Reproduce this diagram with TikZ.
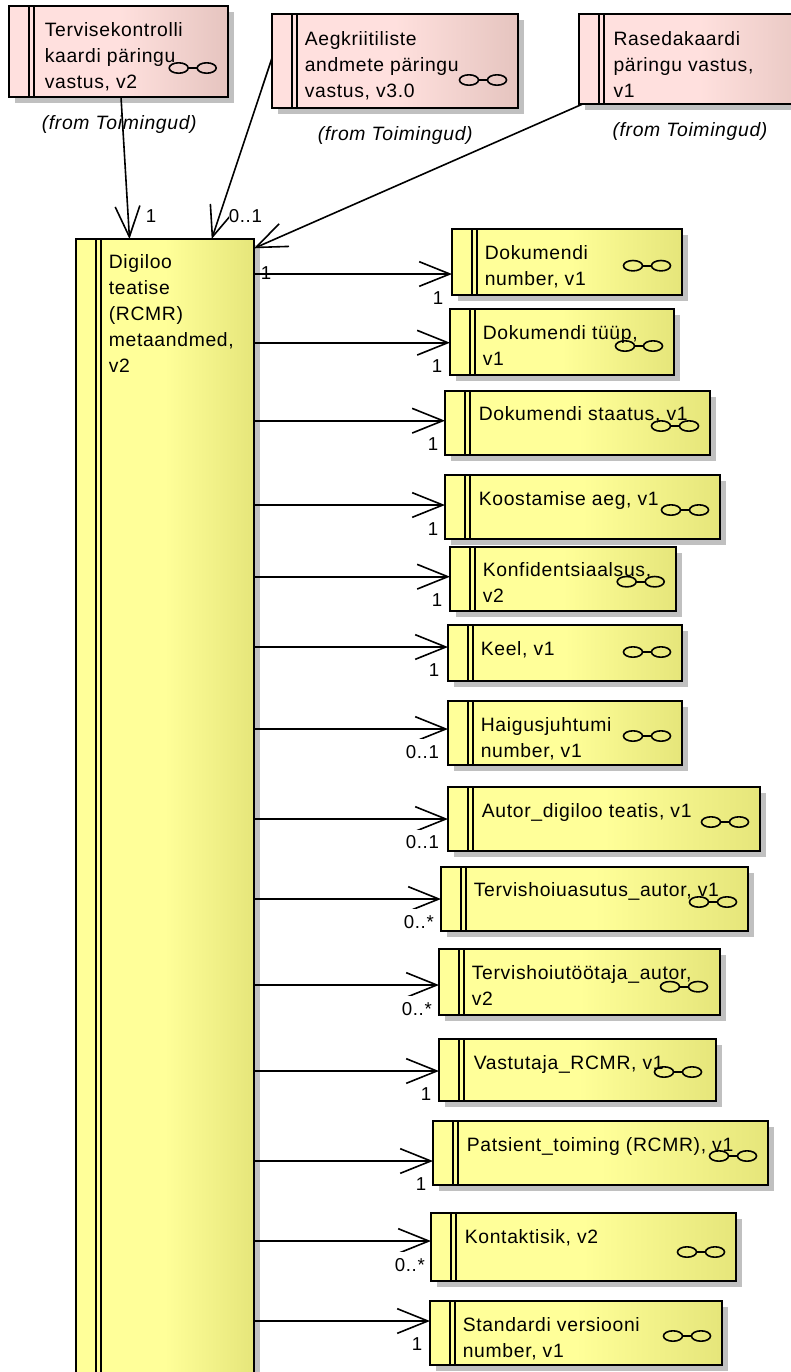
\documentclass[tikz,border=0pt]{standalone}
\usepackage{fontspec}
\setmainfont[LetterSpace=3.5]{Liberation Sans}
\usetikzlibrary{arrows.meta,shadows}

\pgfdeclarehorizontalshading{clsyellow}{100bp}{rgb(0bp)=(1,1,.6); rgb(50bp)=(1,1,.6); rgb(75bp)=(.9,.9,.48); rgb(100bp)=(.9,.9,.48)}
\pgfdeclarehorizontalshading{clspink}{100bp}{rgb(0bp)=(1,.88,.87); rgb(50bp)=(1,.88,.87); rgb(75bp)=(.9,.77,.75); rgb(100bp)=(.9,.77,.75)}
\definecolor{shadowgrey}{HTML}{C0C0C0}
\newcommand{\boxlines}[1]{\begin{tabular}[t]{@{}l@{}}#1\end{tabular}}

\tikzset{
  classbox/.style 2 args={anchor=north west,inner sep=0pt,outer sep=0pt,draw,line width=1.2pt,
    minimum width=#1*.75pt,minimum height=#2*.75pt,shade,
    general shadow={shadow xshift=4.5pt,shadow yshift=-4.5pt,fill=shadowgrey},
    path picture={
      \draw[line width=1.1pt] ([xshift=15pt]path picture bounding box.north west) -- ([xshift=15pt]path picture bounding box.south west);
      \draw[line width=1.1pt] ([xshift=18.6pt]path picture bounding box.north west) -- ([xshift=18.6pt]path picture bounding box.south west);
    }},
  ybox/.style 2 args={classbox={#1}{#2},shading=clsyellow},
  pbox/.style 2 args={classbox={#1}{#2},shading=clspink},
  boxtext/.style={anchor=base west,inner sep=0pt,font=\fontsize{14.5pt}{19.5pt}\selectfont},
  mult/.style={anchor=base west,inner sep=0pt,font=\fontsize{14pt}{19.5pt}\selectfont},
  multw/.style={mult,fill=white,text height=14pt,text depth=3pt},
  fromtxt/.style={mult,font=\fontsize{14.5pt}{19.5pt}\selectfont\itshape},
  glasses/.pic={
    \draw[line width=1.2pt] (-14,0) ellipse (9.5 and 5.2);
    \draw[line width=1.2pt] (14,0) ellipse (9.5 and 5.2);
    \draw[line width=1.2pt] (-4.5,0) -- (4.5,0);
  }
}

\begin{document}
\begin{tikzpicture}[x=.75pt,y=-.75pt,line width=1.2pt,>={Straight Barb[length=23pt,width=18.5pt]}]

  \clip[use as bounding box] (0,0) rectangle (791,1372);

  % upper classes
  \node[pbox={219}{91}]  (tkKaart) at (9,6)   { };
  \node[pbox={246}{94}]  (aegKr)   at (272,14) { };
  \node[pbox={240}{90}]  (rasKaart) at (579,14) { };

  % main class
  \node[ybox={178}{1180}] (Main) at (76,239) { };

  % right column
  \node[ybox={230}{66}]  (dokNr)     at (452,229)  { };
  \node[ybox={224}{66}]  (dokTyyp)   at (450,309)  { };
  \node[ybox={265}{64}]  (dokStaatus) at (445,391) { };
  \node[ybox={275}{64}]  (koostAeg)  at (445,475)  { };
  \node[ybox={226}{64}]  (konfid)    at (450,547)  { };
  \node[ybox={234}{56}]  (keel)      at (448,625)  { };
  \node[ybox={234}{64}]  (haigus)    at (448,701)  { };
  \node[ybox={312}{64}]  (autor)     at (448,787)  { };
  \node[ybox={307}{64}]  (tvAsutus)  at (441,867)  { };
  \node[ybox={281}{66}]  (tvTootaja) at (439,949)  { };
  \node[ybox={277}{62}]  (vastutaja) at (439,1039) { };
  \node[ybox={335}{64}]  (patsient)  at (433,1121) { };
  \node[ybox={305}{68}]  (kontakt)   at (431,1213) { };
  \node[ybox={292}{64}]  (standard)  at (430,1301) { };

  % texts
  \node[boxtext] (tTkKaart) at (44,36.7)  {\boxlines{Tervisekontrolli\\kaardi päringu\\vastus, v2}};
  \node[boxtext] (tAegKr)   at (304,45)   {\boxlines{Aegkriitiliste\\andmete päringu\\vastus, v3.0}};
  \node[boxtext] (tRasKaart) at (612.7,45) {\boxlines{Rasedakaardi\\päringu vastus,\\v1}};
  \node[boxtext] (tMain)    at (108,268.3) {\boxlines{Digiloo\\teatise\\(RCMR)\\metaandmed,\\v2}};
  \node[boxtext] (tDokNr)   at (484,259.3) {\boxlines{Dokumendi\\number, v1}};
  \node[boxtext] (tDokTyyp) at (482,339)   {\boxlines{Dokumendi tüüp,\\v1}};
  \node[boxtext] (tDokStaatus) at (478,420.7) {Dokumendi staatus, v1};
  \node[boxtext] (tKoostAeg) at (478,505)  {Koostamise aeg, v1};
  \node[boxtext] (tKonfid)  at (482,576.7) {\boxlines{Konfidentsiaalsus,\\v2}};
  \node[boxtext] (tKeel)    at (480,655)   {Keel, v1};
  \node[boxtext] (tHaigus)  at (480,731.7) {\boxlines{Haigusjuhtumi\\number, v1}};
  \node[boxtext] (tAutor)   at (481,817)   {Autor\_digiloo teatis, v1};
  \node[boxtext] (tTvAsutus) at (473,896.7) {Tervishoiuasutus\_autor, v1};
  \node[boxtext] (tTvTootaja) at (471,979) {\boxlines{Tervishoiutöötaja\_autor,\\v2}};
  \node[boxtext] (tVastutaja) at (473,1069) {Vastutaja\_RCMR, v1};
  \node[boxtext] (tPatsient) at (466,1151.7) {Patsient\_toiming (RCMR), v1};
  \node[boxtext] (tKontakt) at (464,1243)  {Kontaktisik, v2};
  \node[boxtext] (tStandard) at (462,1331.7) {\boxlines{Standardi versiooni\\number, v1}};

  % glasses
  \pic at (192.7,68)  {glasses};
  \pic at (483,80)    {glasses};
  \pic at (647,265.7) {glasses};
  \pic at (639,346)   {glasses};
  \pic at (675,426)   {glasses};
  \pic at (685,510)   {glasses};
  \pic at (640.7,581.7) {glasses};
  \pic at (647,652)   {glasses};
  \pic at (647,736)   {glasses};
  \pic at (725,822)   {glasses};
  \pic at (713,902)   {glasses};
  \pic at (684,986.7) {glasses};
  \pic at (678,1072)  {glasses};
  \pic at (733,1156)  {glasses};
  \pic at (701,1252)  {glasses};
  \pic at (687,1336)  {glasses};

  \node[fromtxt] (fTkKaart) at (41,129)   {(from Toimingud)};
  \node[fromtxt] (fAegKr)   at (317,140)  {(from Toimingud)};
  \node[fromtxt] (fRasKaart) at (611.7,136) {(from Toimingud)};

  \path[->]
            (tkKaart.south -| 121,0) edge (Main.north -| 129.5,0)
            (aegKr.west |- 0,58) edge (Main.north -| 211.7,0)
            (rasKaart.south -| 582.7,0) edge (Main.east |- 0,248.3)
            (Main.east |- 0,274) edge (dokNr.west |- 0,274)
            (Main.east |- 0,342.7) edge (dokTyyp.west |- 0,342.7)
            (Main.east |- 0,420.7) edge (dokStaatus.west |- 0,420.7)
            (Main.east |- 0,505) edge (koostAeg.west |- 0,505)
            (Main.east |- 0,576.7) edge (konfid.west |- 0,576.7)
            (Main.east |- 0,647) edge (keel.west |- 0,647)
            (Main.east |- 0,729) edge (haigus.west |- 0,729)
            (Main.east |- 0,819) edge (autor.west |- 0,819)
            (Main.east |- 0,899) edge (tvAsutus.west |- 0,899)
            (Main.east |- 0,985) edge (tvTootaja.west |- 0,985)
            (Main.east |- 0,1071) edge (vastutaja.west |- 0,1071)
            (Main.east |- 0,1161) edge (patsient.west |- 0,1161)
            (Main.east |- 0,1241) edge (kontakt.west |- 0,1241)
            (Main.east |- 0,1321) edge (standard.west |- 0,1321);

  % multiplicities
  \node[mult]  (m01) at (145,222.7) {1};
  \node[multw] (m02) at (228,222.7) {0..1};
  \node[mult]  (m03) at (260,279)   {1};
  \node[mult]  (m04) at (432,304)   {1};
  \node[mult]  (m05) at (431,372.7) {1};
  \node[mult]  (m06) at (427,450.7) {1};
  \node[mult]  (m07) at (427,535)   {1};
  \node[mult]  (m08) at (431,606.7) {1};
  \node[mult]  (m09) at (428,676.7) {1};
  \node[multw] (m10) at (405,758)   {0..1};
  \node[multw] (m11) at (405,848.7) {0..1};
  \node[multw] (m12) at (403,928)   {0..*};
  \node[multw] (m13) at (401,1015)  {0..*};
  \node[mult]  (m14) at (420,1100.7) {1};
  \node[mult]  (m15) at (415,1190.7) {1};
  \node[multw] (m16) at (394,1271)  {0..*};
  \node[mult]  (m17) at (411,1350.7) {1};

\end{tikzpicture}
\end{document}
